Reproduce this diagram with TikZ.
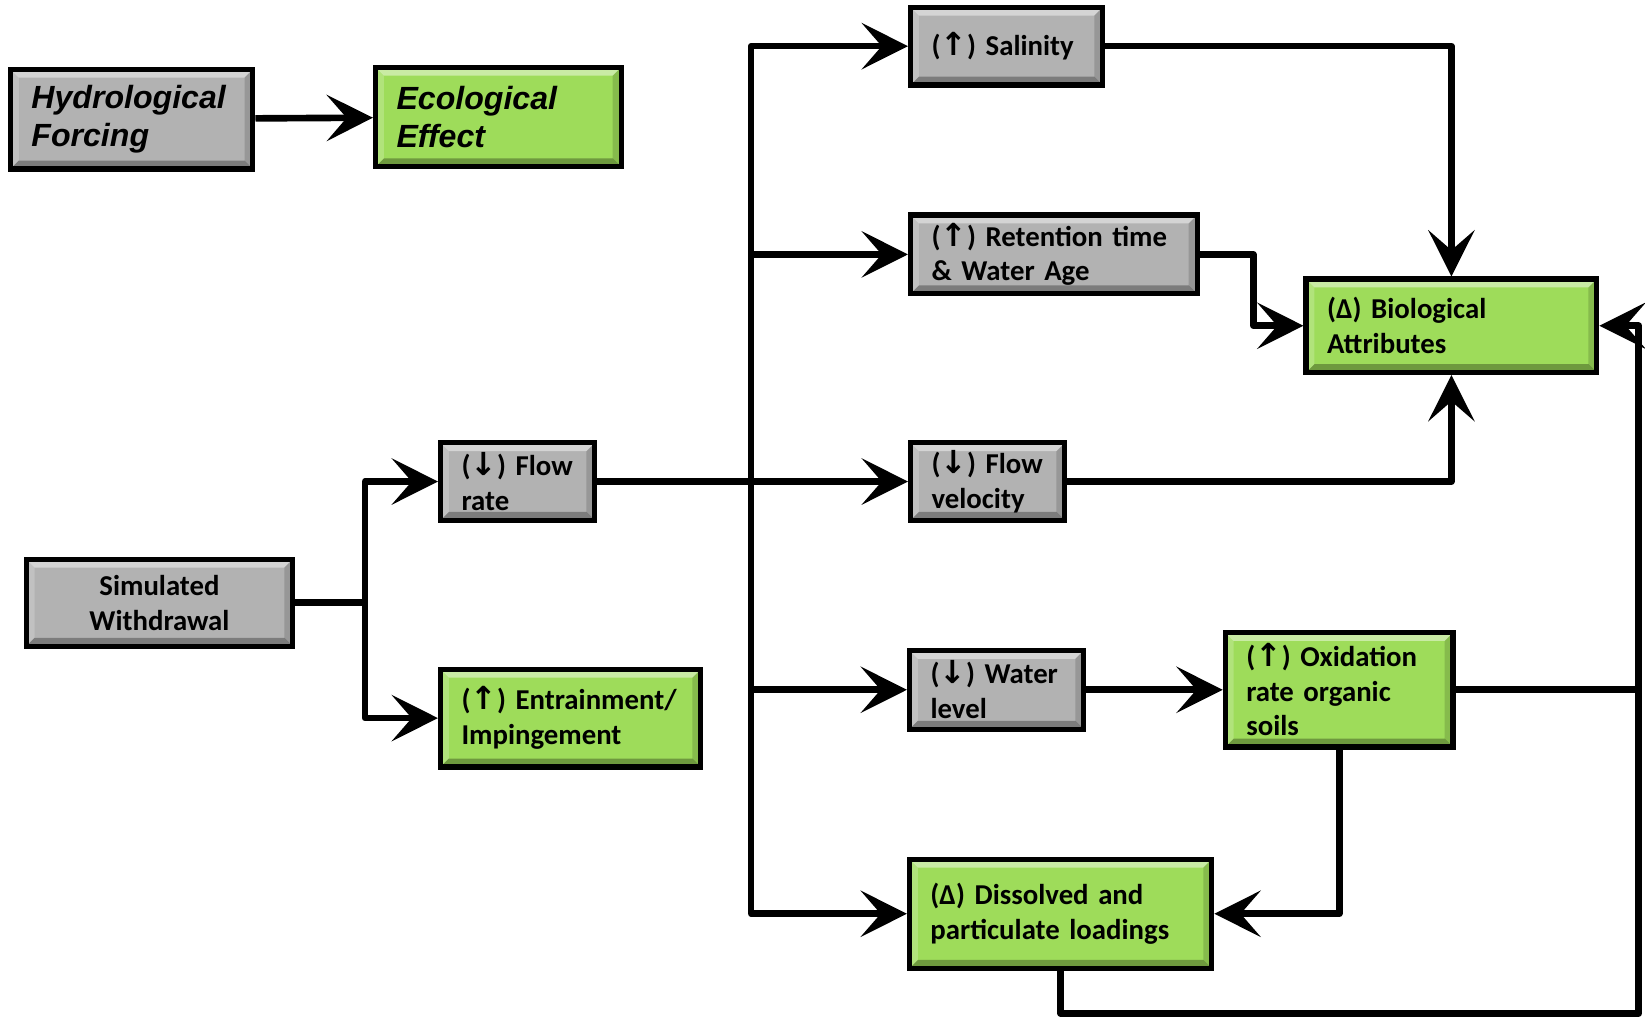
\documentclass[tikz,border=0pt]{standalone}
\usepackage{fontspec}
\setmainfont{Carlito}
\newfontfamily\arialf{Liberation Sans}
\newfontfamily\symf{DejaVu Sans}
\usetikzlibrary{arrows.meta,calc}
\definecolor{boxgray}{RGB}{178,178,178}
\definecolor{boxgreen}{RGB}{158,220,90}
\newcommand{\up}{{\symf\bfseries\fontsize{8.6pt}{9.4pt}\selectfont\char"2191}}
\newcommand{\dn}{{\symf\bfseries\fontsize{8.6pt}{9.4pt}\selectfont\char"2193}}
\tikzset{
  x=0.01cm,y=-0.01cm,
  bevel/.style={path picture={
    \fill[white,opacity=.45] (path picture bounding box.north west) -- (path picture bounding box.north east)
      -- ([xshift=-0.08cm,yshift=-0.08cm]path picture bounding box.north east) -- ([xshift=0.08cm,yshift=-0.08cm]path picture bounding box.north west) -- cycle;
    \fill[white,opacity=.2] (path picture bounding box.north west) -- (path picture bounding box.south west)
      -- ([xshift=0.08cm,yshift=0.08cm]path picture bounding box.south west) -- ([xshift=0.08cm,yshift=-0.08cm]path picture bounding box.north west) -- cycle;
    \fill[black,opacity=.3] (path picture bounding box.south west) -- (path picture bounding box.south east)
      -- ([xshift=-0.08cm,yshift=0.08cm]path picture bounding box.south east) -- ([xshift=0.08cm,yshift=0.08cm]path picture bounding box.south west) -- cycle;
    \fill[black,opacity=.15] (path picture bounding box.north east) -- (path picture bounding box.south east)
      -- ([xshift=-0.08cm,yshift=0.08cm]path picture bounding box.south east) -- ([xshift=-0.08cm,yshift=-0.08cm]path picture bounding box.north east) -- cycle;
  }},
  box/.style={draw=black,line width=1.4pt,bevel,inner xsep=0.2cm,inner ysep=0pt,
    font=\fontsize{7.8pt}{9.4pt}\selectfont\bfseries,align=left,anchor=center},
  gbox/.style={box,fill=boxgray},
  ebox/.style={box,fill=boxgreen},
  conn/.style={line width=1.8pt,line join=round},
  arr/.style={conn,-{Stealth[length=0.44cm,width=0.44cm,inset=0.19cm]}}
}
\begin{document}
\begin{tikzpicture}
\useasboundingbox (0,0) rectangle (1568,970);
% legend
\node[gbox,minimum width=2.31cm,minimum height=0.95cm,text width=1.91cm,
  font=\arialf\fontsize{8.7pt}{10.2pt}\selectfont\bfseries\itshape] (hf) at (125.5,113.5) {Hydrological\\Forcing};
\node[ebox,minimum width=2.34cm,minimum height=0.95cm,text width=1.94cm,
  font=\arialf\fontsize{8.7pt}{10.2pt}\selectfont\bfseries\itshape] (ee) at (475,111.5) {Ecological\\Effect};
% nodes
\node[gbox,minimum width=1.83cm,minimum height=0.74cm,text width=1.43cm] (sal) at (959.5,44) {(\up) Salinity};
\node[gbox,minimum width=2.73cm,minimum height=0.75cm,text width=2.33cm] (ret) at (1004.5,242.5) {(\up) Retention time\\\& Water Age};
\node[ebox,minimum width=2.77cm,minimum height=0.89cm,text width=2.37cm] (bio) at (1383.5,310.5) {(Δ) Biological\\Attributes};
\node[gbox,minimum width=1.47cm,minimum height=0.74cm,text width=1.07cm] (fr) at (493.5,459) {(\dn) Flow\\rate};
\node[gbox,minimum width=1.47cm,minimum height=0.74cm,text width=1.07cm] (fv) at (941.5,459) {(\dn) Flow\\velocity};
\node[gbox,minimum width=2.54cm,minimum height=0.83cm,text width=2.14cm,align=center] (sw) at (152,574.5) {Simulated\\Withdrawal};
\node[ebox,minimum width=2.48cm,minimum height=0.93cm,text width=2.08cm] (ent) at (544,684.5) {(\up) Entrainment/\\Impingement};
\node[gbox,minimum width=1.66cm,minimum height=0.75cm,text width=1.26cm] (wl) at (950,657.5) {(\dn) Water\\level};
\node[ebox,minimum width=2.17cm,minimum height=1.09cm,text width=1.77cm] (ox) at (1276.5,657.5) {(\up) Oxidation\\rate organic\\soils};
\node[ebox,minimum width=2.88cm,minimum height=1.04cm,text width=2.48cm] (dis) at (1011,871) {(Δ) Dissolved and\\particulate loadings};
% helper coordinates
\coordinate (sj) at (348,574.5);
\coordinate (tr) at (716,459);
\coordinate (rx) at (1562,657.5);
\coordinate (rb) at (1562,966);
% connectors
\draw[arr] (hf) -- (ee);
\draw[conn] (sw) -- (sj);
\draw[arr] (sj) |- (fr);
\draw[arr] (sj) |- (ent);
\draw[arr] (fr) -- (fv);
\draw[arr] (tr) |- (sal);
\draw[arr] (tr) |- (ret);
\draw[arr] (tr) |- (wl);
\draw[arr] (tr) |- (dis);
\draw[arr] (sal.east) -| (bio.north);
\draw[arr] (ret.east) -- ++(51,0) |- (bio.west);
\draw[arr] (fv.east) -| (bio.south);
\draw[arr] (wl) -- (ox);
\draw[conn] (ox.east) -- (rx);
\draw[arr] (ox.south) |- (dis.east);
\draw[arr] (dis.south) |- (rb) |- (bio.east);
\end{tikzpicture}
\end{document}
